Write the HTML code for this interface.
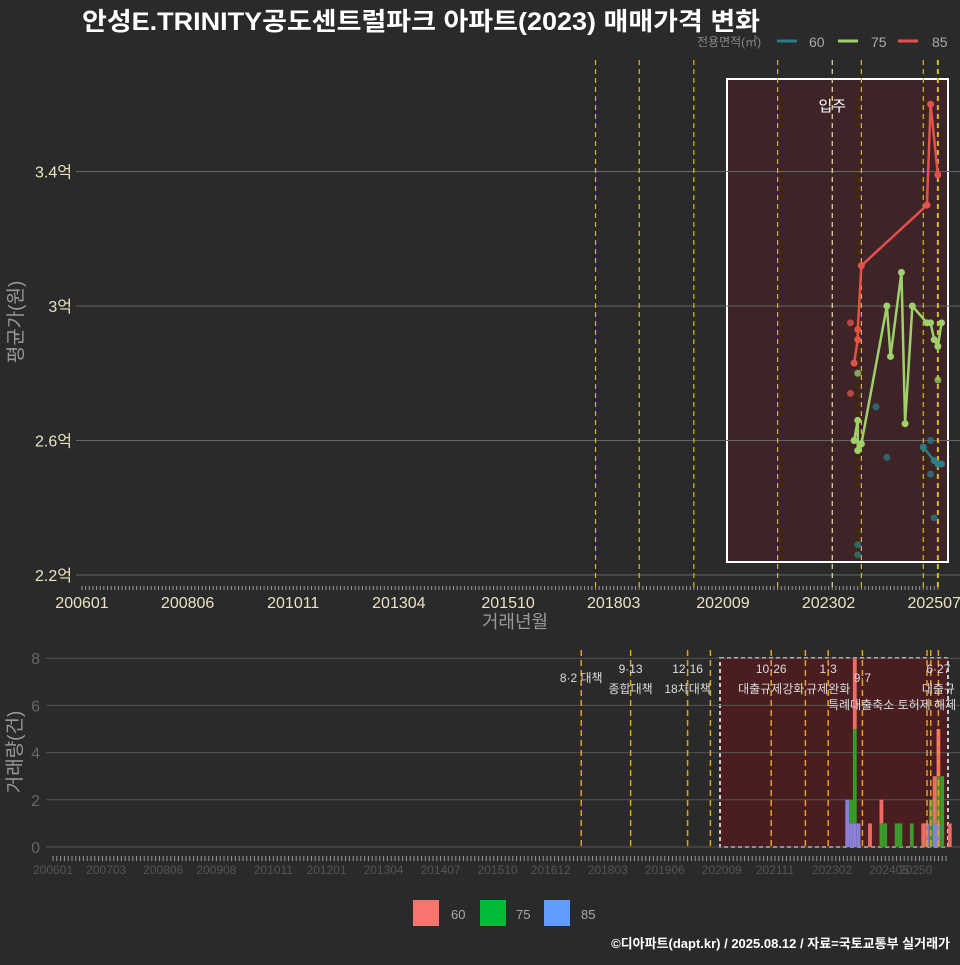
<!DOCTYPE html>
<html><head><meta charset="utf-8"><style>
body{margin:0;background:#2a2a2b;width:960px;height:960px;overflow:hidden;font-family:"Liberation Sans","Noto Sans CJK KR",sans-serif}
svg text{font-family:"Liberation Sans","Noto Sans CJK KR",sans-serif}
</style></head><body>
<svg id="c" width="960" height="960" xmlns="http://www.w3.org/2000/svg">
<rect width="960" height="960" fill="#2a2a2b"/>
<text x="82" y="30" fill="#fff" font-size="25" font-weight="bold" textLength="678" lengthAdjust="spacingAndGlyphs">안성E.TRINITY공도센트럴파크 아파트(2023) 매매가격 변화</text>
<g font-size="14" fill="#999">
<text x="697" y="46" font-size="12" fill="#888">전용면적(㎡)</text>
<line x1="777" y1="41" x2="797" y2="41" stroke="#2a7f86" stroke-width="3"/><text x="809" y="47" fill="#aaa">60</text>
<line x1="838" y1="41" x2="858" y2="41" stroke="#9ed06b" stroke-width="3"/><text x="871" y="47" fill="#aaa">75</text>
<line x1="898" y1="41" x2="918" y2="41" stroke="#e5504f" stroke-width="3"/><text x="932" y="47" fill="#aaa">85</text>
</g>
<g id="top"></g>
<g id="bot"></g>
<g font-size="13" fill="#aaa">
<rect x="413" y="900" width="26" height="26" fill="#F8766D"/><text x="451" y="919">60</text>
<rect x="480" y="900" width="26" height="26" fill="#00BA38"/><text x="516" y="919">75</text>
<rect x="544" y="900" width="26" height="26" fill="#619CFF"/><text x="581" y="919">85</text>
</g>
<text x="950" y="948" text-anchor="end" fill="#fff" font-size="13" font-weight="bold">©디아파트(dapt.kr) / 2025.08.12 / 자료=국토교통부 실거래가</text>
</svg>
<script>
// ---- data ----
const priceTicks=[2.2,2.6,3.0,3.4];
const priceTickLabels=["2.2억","2.6억","3억","3.4억"];
const xTickLabels=["200601","200806","201011","201304","201510","201803","202009","202302","202507"];
const s85Dates=["2023-09","2023-10","2023-10","2023-11","2025-05","2025-06","2025-08"];
const s85Vals=[2.83,2.90,2.93,3.12,3.30,3.60,3.39];
const s85PtDates=["2023-08","2023-08"];
const s85PtVals=[2.95,2.74];
const s75Dates=["2023-09","2023-10","2023-10","2023-11","2024-06","2024-07","2024-10","2024-11","2025-01","2025-05","2025-06","2025-07","2025-08","2025-09"];
const s75Vals=[2.60,2.66,2.57,2.59,3.00,2.85,3.10,2.65,3.00,2.95,2.95,2.90,2.88,2.95];
const s75PtDates=["2023-10","2025-08"];
const s75PtVals=[2.80,2.78];
const s60Dates=["2025-04","2025-07","2025-08","2025-09"];
const s60Vals=[2.58,2.54,2.53,2.53];
const s60PtDates=["2024-03","2024-06","2023-10","2023-10","2025-06","2025-06","2025-07"];
const s60PtVals=[2.70,2.55,2.29,2.26,2.60,2.50,2.37];
const topEvents=["2017-10","2018-10","2020-01","2021-12","2023-03","2023-11","2025-04","2025-08"];
const cntTicks=[0,2,4,6,8];
const botTickLabels=["200601","200703","200806","200908","201011","201201","201304","201407","201510","201612","201803","201906","202009","202111","202302","202405","20250"];
const barDates=["2023-06","2023-07","2023-08","2023-09","2023-12","2024-03","2024-04","2024-07","2024-08","2024-11","2025-02","2025-03","2025-04","2025-05","2025-06","2025-07","2025-08","2025-09"];
const bar85=[2,1,1,1,0,0,0,0,0,0,0,1,0,1,1,0,0,0];
const bar75=[0,1,4,0,0,1,1,1,1,1,0,0,2,0,2,3,0,0];
const bar60=[0,0,3,0,1,1,0,0,0,0,1,0,0,2,2,0,0,1];
const botEvents=["2017-08","2018-09","2019-12","2020-06","2021-10","2022-07","2023-01","2023-10","2025-03","2025-04","2025-06"];
const botLabels=[["8·2 대책",""],["9·13","종합대책"],["12·16","18차대책"],["",""],["10·26","대출규제강화"],["",""],["1·3","규제완화"],["9·7",""],["",""],["",""],["6·27","대출규"]];
// ---- scales ----
const NS="http://www.w3.org/2000/svg";
function mIdx(s){const [y,m]=s.split("-").map(Number);return (y-2006)*12+(m-1);}
function lblIdx(s){return (Number(s.slice(0,4))-2006)*12+Number(s.slice(4,6)||1)-1;}
const tx=m=>82+m*3.642, ty=v=>306-(v-3.0)*336.25;
const bx=m=>53+m*3.8, by=v=>847-v*23.6;
function el(p,t,a){const e=document.createElementNS(NS,t);for(const k in a)e.setAttribute(k,a[k]);p.appendChild(e);return e;}
const topG=document.getElementById("top"), botG=document.getElementById("bot");
// top panel
el(topG,"rect",{x:727,y:79,width:221,height:483,fill:"#3e2327",stroke:"#fff","stroke-width":2});
priceTicks.forEach((v,i)=>{
 const g=el(topG,"line",{x1:76,x2:960,y1:ty(v),y2:ty(v),stroke:"#666","stroke-width":1});
 
 const t=el(topG,"text",{x:72,y:ty(v)+6,fill:"#e8e4c0","font-size":16,"text-anchor":"end"});t.textContent=priceTickLabels[i];
 
});
for(let m=0;m<236;m++)el(topG,"line",{x1:tx(m),x2:tx(m),y1:586,y2:590,stroke:"#999","stroke-width":1});
xTickLabels.forEach(s=>{const t=el(topG,"text",{x:tx(lblIdx(s)),y:608,fill:"#e8e4c0","font-size":16,"text-anchor":"middle"});t.textContent=s;
 });
topEvents.forEach((d,i)=>{const l=el(topG,"line",{x1:tx(mIdx(d)),x2:tx(mIdx(d)),y1:60,y2:590,stroke:i==4?"#e8e4a0":"#d4c020","stroke-width":i==7?2:1.2,"stroke-dasharray":"5,4"});
 });
{const t=el(topG,"text",{x:tx(mIdx("2023-03")),y:111,fill:"#fff","font-size":15,"text-anchor":"middle"});t.textContent="입주";}
{const t=el(topG,"text",{x:515,y:628,fill:"#999","font-size":18,"text-anchor":"middle"});t.textContent="거래년월";
 }
{const t=el(topG,"text",{x:0,y:0,fill:"#999","font-size":19,"text-anchor":"middle",transform:"translate(22,322) rotate(-90)"});t.textContent="평균가(원)";
 }
function series(dates,vals,pd,pv,col,name){
 if(dates.length){const p=el(topG,"polyline",{points:dates.map((d,i)=>tx(mIdx(d))+","+ty(vals[i])).join(" "),fill:"none",stroke:col,"stroke-width":2.5});
  }
 dates.forEach((d,i)=>{const c=el(topG,"circle",{cx:tx(mIdx(d)),cy:ty(vals[i]),r:3.5,fill:col});});
 pd.forEach((d,i)=>{const c=el(topG,"circle",{cx:tx(mIdx(d)),cy:ty(pv[i]),r:3.5,fill:col,opacity:0.75});});
}
series(s60Dates,s60Vals,s60PtDates,s60PtVals,"#2a7f86","series-60");
series(s75Dates,s75Vals,s75PtDates,s75PtVals,"#9ed06b","series-75");
series(s85Dates,s85Vals,s85PtDates,s85PtVals,"#e5504f","series-85");
// bottom panel
el(botG,"rect",{x:720,y:658,width:228,height:189,fill:"#4a1e20",stroke:"#ccc","stroke-width":2,"stroke-dasharray":"4,3"});
cntTicks.forEach(v=>{el(botG,"line",{x1:46,x2:960,y1:by(v),y2:by(v),stroke:"#555","stroke-width":1});
 const t=el(botG,"text",{x:40,y:by(v)+6,fill:"#666","font-size":16,"text-anchor":"end"});t.textContent=v;
 });
for(let m=0;m<236;m++)el(botG,"line",{x1:bx(m),x2:bx(m),y1:856,y2:861,stroke:"#999","stroke-width":1});
botTickLabels.forEach(s=>{const t=el(botG,"text",{x:bx(lblIdx(s)),y:874,fill:"#555","font-size":12,"text-anchor":"middle"});t.textContent=s;
 });
{const t=el(botG,"text",{x:0,y:0,fill:"#999","font-size":19,"text-anchor":"middle",transform:"translate(21,752) rotate(-90)"});t.textContent="거래량(건)";
 }
barDates.forEach((d,i)=>{const x=bx(mIdx(d))-1.9;let base=0;
 [[bar85[i],"#8a80d8"],[bar75[i],"#3a9a2a"],[bar60[i],"#f06a66"]].forEach(([v,c])=>{if(v>0){const r=el(botG,"rect",{x:x,y:by(base+v),width:3.8,height:by(base)-by(base+v),fill:c});
  }base+=v;});});
botEvents.forEach((d,i)=>{const x=bx(mIdx(d));const l=el(botG,"line",{x1:x,x2:x,y1:650,y2:850,stroke:"#e8a020","stroke-width":1.5,"stroke-dasharray":"6,4"});
 
 const [a,b]=botLabels[i];
 if(a){const t=el(botG,"text",{x:x,y:b?673:682,fill:"#ddd","font-size":12,"text-anchor":"middle"});t.textContent=a;}
 if(b){const t=el(botG,"text",{x:x,y:693,fill:"#ddd","font-size":12,"text-anchor":"middle"});t.textContent=b;}});
{const t=el(botG,"text",{x:828,y:709,fill:"#ddd","font-size":12});t.textContent="특례대출축소 토허제 해제";}
</script>
</body></html>
